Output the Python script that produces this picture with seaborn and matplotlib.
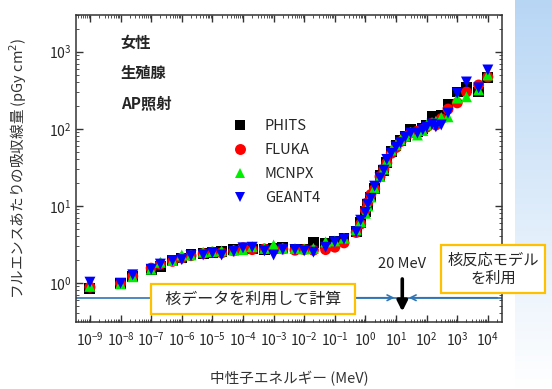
import numpy as np
import pandas as pd
import matplotlib
matplotlib.use("Agg")
import matplotlib.pyplot as plt
from matplotlib import ticker
import seaborn as sns

# 中性子エネルギー (MeV)
energy = [1e-9, 1e-8, 2.5e-8, 1e-7, 2e-7, 5e-7, 1e-6, 2e-6, 5e-6, 1e-5, 2e-5, 5e-5,
          1e-4, 2e-4, 5e-4, 1e-3, 2e-3, 5e-3, 1e-2, 2e-2, 5e-2, 0.1, 0.2, 0.5, 0.7,
          1.0, 1.2, 1.5, 2.0, 3.0, 4.0, 5.0, 7.0, 10, 14, 20, 30, 50, 75,
          100, 150, 200, 300, 500, 1000, 2000, 5000, 10000]

# フルエンスあたりの吸収線量 (pGy cm2)
phits = [0.85, 0.97, 1.2, 1.5, 1.65, 1.95, 2.1, 2.3, 2.4, 2.5, 2.55, 2.7,
         2.7, 2.75, 2.7, 2.8, 2.85, 2.75, 2.75, 3.3, 3.2, 3.4, 3.8, 4.7, 6.0,
         8.5, 10.5, 13, 17, 25, 29, 37, 50, 60, 70, 80, 97, 92, 100,
         112, 143, 130, 150, 205, 300, 340, 300, 460]
fluka = [0.88, 0.98, 1.22, 1.55, 1.75, 1.9, 2.1, 2.25, 2.4, 2.5, 2.45, 2.6,
         2.85, 2.7, 2.75, 2.7, 2.75, 2.65, 2.7, 2.65, 2.7, 2.9, 3.3, 4.5, 5.8,
         8.8, 11, 14, 16.5, 24, 30, 36, 48, 57, 68, 78, 88, 93, 98,
         105, 118, 112, 135, 180, 217, 300, 370, 470]
mcnpx = [0.9, 0.97, 1.2, 1.5, 1.85, 1.95, 2.3, 2.3, 2.5, 2.55, 2.6, 2.65,
         2.7, 2.95, 2.8, 3.1, 2.8, 2.8, 2.75, 2.8, 3.4, 3.5, 3.8, 4.9, 6.2,
         8.0, 10, 13, 17, 24, 30, 38, 53, 62, 72, 80, 90, 83, 95,
         112, 120, 125, 140, 143, 250, 260, 320, 500]
geant4 = [1.02, 0.99, 1.27, 1.5, 1.75, 1.95, 2.0, 2.25, 2.3, 2.45, 2.3, 2.55,
          2.85, 2.9, 2.6, 2.3, 2.7, 2.7, 2.6, 2.5, 2.9, 3.4, 3.7, 4.6, 6.5,
          8.2, 10.5, 12.5, 18, 23, 29, 40, 48, 58, 66, 78, 88, 88, 97,
          105, 115, 106, 112, 160, 290, 405, 340, 580]

codes = ["PHITS", "FLUKA", "MCNPX", "GEANT4"]
colors = {"PHITS": "black", "FLUKA": "#ff0000", "MCNPX": "#00ee00", "GEANT4": "#0000ff"}
marks = {"PHITS": "s", "FLUKA": "o", "MCNPX": "^", "GEANT4": "v"}

df = pd.concat([pd.DataFrame({"E": energy, "dose": v, "code": c})
                for c, v in zip(codes, [phits, fluka, mcnpx, geant4])], ignore_index=True)

sns.set_style("ticks")
plt.rcParams["font.family"] = ["Noto Sans CJK JP", "DejaVu Sans"]

fig = plt.figure(figsize=(5.52, 3.89), dpi=100)

# 右側の背景パネル (グラデーション)
bg = fig.add_axes([515 / 552, 0, 37 / 552, 1], zorder=-5)
grad = np.linspace(0, 1, 256)[:, None]
top = np.array([0.72, 0.84, 0.96])
rgb = top[None, None, :] * (1 - grad[:, :, None]) + np.ones(3) * grad[:, :, None]
rgb = np.clip(rgb, 0, 1)
bg.imshow(rgb, aspect="auto", extent=[0, 1, 0, 1], origin="upper")
bg.set_axis_off()

ax = fig.add_axes([76 / 552, 67 / 389, 426 / 552, 307 / 389])
sns.scatterplot(data=df, x="E", y="dose", hue="code", style="code",
                palette=colors, markers=marks, s=62, linewidth=0, ax=ax)

ax.set_xscale("log")
ax.set_yscale("log")
ax.set_xlim(3.5e-10, 2.9e4)
ax.set_ylim(0.31, 3000)

ax.xaxis.set_major_locator(ticker.LogLocator(base=10, numticks=30))
ax.xaxis.set_minor_locator(ticker.LogLocator(base=10, subs=np.arange(2, 10), numticks=30))
ax.xaxis.set_minor_formatter(ticker.NullFormatter())
ax.tick_params(axis="both", which="both", direction="in", top=True, right=True,
               labelsize=10, color="#333333")
ax.tick_params(which="major", length=5, width=1)
ax.tick_params(which="minor", length=2.5)
ax.tick_params(axis="x", pad=6)
for sp in ax.spines.values():
    sp.set_color("#333333")
    sp.set_linewidth(1.1)

ax.set_xlabel("中性子エネルギー (MeV)", fontsize=10.5, color="#333333", labelpad=16)
ax.set_ylabel("フルエンスあたりの吸収線量 (pGy cm$^2$)", fontsize=10.5, color="#333333", labelpad=14)

sns.move_legend(ax, "upper left", bbox_to_anchor=(0.32, 0.705), frameon=False, title=None,
                fontsize=10.5, labelspacing=0.7, handletextpad=0.7, markerscale=1.0)

for txt, yy in zip(["女性", "生殖腺", "AP照射"], [0.91, 0.81, 0.71]):
    ax.text(0.105, yy, txt, transform=ax.transAxes, fontsize=11, fontweight="bold",
            va="center", ha="left")

# 20 MeV の境界
ax.axhline(0.64, color="#2e75b6", lw=1.2)
ax.annotate("", xy=(11, 0.64), xytext=(1e-3, 0.64),
            arrowprops=dict(arrowstyle="->", color="#2e75b6", lw=1.2))
ax.annotate("", xy=(21, 0.64), xytext=(2.5e4, 0.64),
            arrowprops=dict(arrowstyle="->", color="#2e75b6", lw=1.2))
ax.annotate("", xy=(16, 0.39), xytext=(16, 1.22),
            arrowprops=dict(arrowstyle="-|>", color="black", lw=2.6, mutation_scale=15))
ax.text(16, 1.75, "20 MeV", ha="center", va="center", fontsize=10.5)

box = dict(boxstyle="square,pad=0.4", fc="white", ec="#ffc000", lw=1.6)
fig.text(253 / 552, 1 - 299 / 389, "  核データを利用して計算  ", ha="center", va="center",
         fontsize=11.5, bbox=box)
fig.text(493 / 552, 1 - 269 / 389, "核反応モデル\nを利用", ha="center", va="center",
         fontsize=11, linespacing=1.1, bbox=box)

fig.savefig("out.png", dpi=100)
